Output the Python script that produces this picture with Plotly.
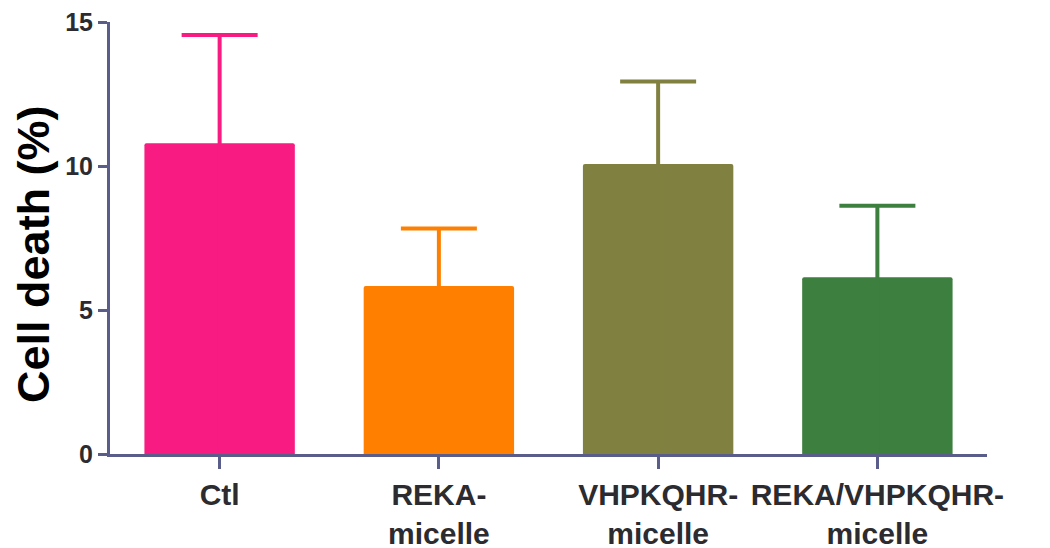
import plotly.graph_objects as go

# Данные: гибель клеток (%) и верхняя ошибка
groups = ["Ctl", "REKA-<br>micelle", "VHPKQHR-<br>micelle", "REKA/VHPKQHR-<br>micelle"]
cell_death = [10.79, 5.83, 10.07, 6.14]
error_up = [3.76, 2.00, 2.86, 2.48]
colors = ["#F71B82", "#FF8000", "#808040", "#3D7F3F"]

axis_color = "#5A5D8A"

fig = go.Figure()
for g, v, e, c in zip(groups, cell_death, error_up, colors):
    # нижняя часть ошибки уходит внутрь столбца (тот же цвет), чтобы не было "ступеньки"
    fig.add_trace(go.Bar(
        x=[g], y=[v],
        marker=dict(color=c, line=dict(width=0), cornerradius=2),
        error_y=dict(type="data", symmetric=False, array=[e], arrayminus=[v],
                     color=c, thickness=4, width=38),
        showlegend=False,
    ))

fig.update_layout(
    width=1050, height=548,
    margin=dict(l=102, r=71, t=14, b=102),
    plot_bgcolor="white", paper_bgcolor="white",
    bargap=0.314,
    font=dict(family="Liberation Sans, Arial, sans-serif"),
)

fig.update_xaxes(
    range=[-0.5, 3.5], tickangle=0, automargin=False,
    showline=True, linecolor=axis_color, linewidth=3, layer="above traces",
    ticks="outside", ticklen=12, tickwidth=3, tickcolor=axis_color,
    tickfont=dict(size=30, color="#2B2B30", weight="bold"),
    ticklabelstandoff=0,
    showgrid=False, zeroline=False,
)
fig.update_yaxes(
    range=[0, 15], tickvals=[0, 5, 10, 15], automargin=False,
    showline=True, linecolor=axis_color, linewidth=3,
    ticks="outside", ticklen=9, tickwidth=3, tickcolor=axis_color,
    tickfont=dict(size=25, color="#2B2B30", weight="bold"),
    ticklabeloverflow="allow",
    showgrid=False, zeroline=False,
)

# Подпись оси Y
fig.add_annotation(
    text="Cell death (%)", textangle=-90, showarrow=False,
    xref="paper", yref="paper", x=-0.0867, y=0.463,
    xanchor="center", yanchor="middle",
    font=dict(size=45, color="black", weight="bold"),
)

fig.write_html("out.html")
